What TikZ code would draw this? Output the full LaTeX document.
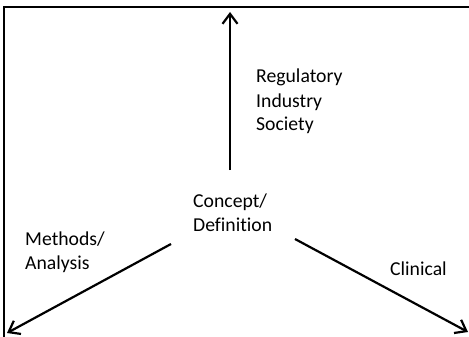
\documentclass[tikz,border=0pt]{standalone}
\usepackage{fontspec}
\setmainfont[Ligatures=CommonOff]{Carlito}
\usetikzlibrary{arrows.meta}
\begin{document}
\begin{tikzpicture}[x=1pt,y=-1pt,
  lbl/.style={anchor=base west,inner sep=0pt,align=left,font=\fontsize{19.7}{24}\selectfont},
  arr/.style={line width=2.2pt,-{Straight Barb[length=10pt,width=15pt,line width=2.2pt]}},
  frame/.style={line width=1.3pt}]
\useasboundingbox (0,0) rectangle (469,337);
\draw[frame] (469,7) -- (4,7) -- (4,337);
\node[lbl] (concept) at (193,231) {Concept/\\Definition};
\node[lbl] (reg) at (256,131) {Regulatory\\Industry\\Society};
\node[lbl] (meth) at (25,269) {Methods/\\Analysis};
\node[lbl] (clin) at (390,275) {Clinical};
\coordinate (s1) at (230,170);
\coordinate (e1) at (230,12);
\coordinate (s2) at (171,244);
\coordinate (e2) at (7,333);
\coordinate (s3) at (295,239);
\coordinate (e3) at (468,332);
\draw[arr] (s1) -- (e1);
\draw[arr] (s2) -- (e2);
\draw[arr] (s3) -- (e3);
\end{tikzpicture}
\end{document}
